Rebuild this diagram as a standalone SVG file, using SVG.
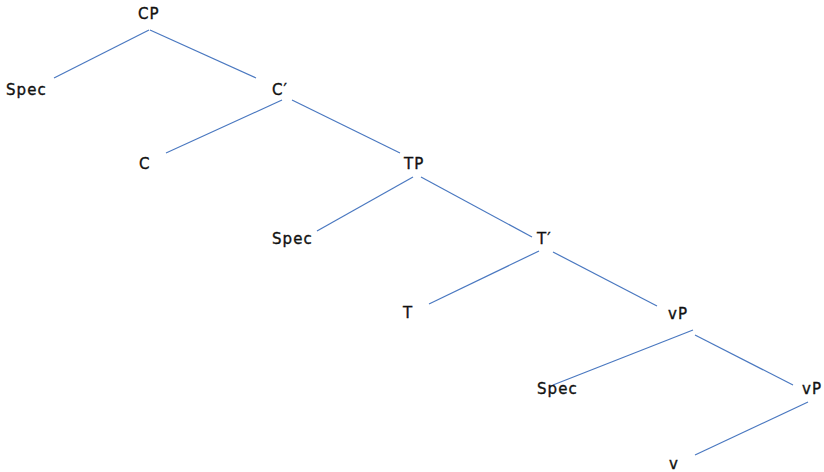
<svg xmlns="http://www.w3.org/2000/svg" width="824" height="472" viewBox="0 0 824 472">
<style>
.lbl{font-family:"DejaVu Sans","Liberation Sans",sans-serif;font-size:15px;fill:#111;stroke:#111;stroke-width:0.35;letter-spacing:1.1px}
.edge{stroke:#4a78c0;stroke-width:1.2;fill:none}
</style>
<rect width="824" height="472" fill="#fff"/>
<g id="connectors">
<line class="edge" x1="149" y1="30" x2="54" y2="78"/>
<line class="edge" x1="150" y1="30" x2="256" y2="78"/>
<line class="edge" x1="282" y1="100" x2="166" y2="153"/>
<line class="edge" x1="292" y1="100" x2="400" y2="153"/>
<line class="edge" x1="413" y1="177" x2="317" y2="231"/>
<line class="edge" x1="421" y1="177" x2="532" y2="237"/>
<line class="edge" x1="539" y1="251" x2="429" y2="304"/>
<line class="edge" x1="553" y1="252" x2="657" y2="306"/>
<line class="edge" x1="693" y1="330" x2="553" y2="385"/>
<line class="edge" x1="695" y1="335" x2="793" y2="385"/>
<line class="edge" x1="808" y1="402" x2="695" y2="455"/>
</g>
<g id="n-CP"><text class="lbl" x="138" y="19">CP</text></g>
<g id="n-Spec1"><text class="lbl" x="6" y="95">Spec</text></g>
<g id="n-Cbar"><text class="lbl" x="272" y="95">C′</text></g>
<g id="n-C"><text class="lbl" x="139" y="169">C</text></g>
<g id="n-TP"><text class="lbl" x="404" y="169">TP</text></g>
<g id="n-Spec2"><text class="lbl" x="272" y="244">Spec</text></g>
<g id="n-Tbar"><text class="lbl" x="537" y="244">T′</text></g>
<g id="n-T"><text class="lbl" x="403" y="318">T</text></g>
<g id="n-vP1"><text class="lbl" x="668" y="319">vP</text></g>
<g id="n-Spec3"><text class="lbl" x="537" y="394">Spec</text></g>
<g id="n-vP2"><text class="lbl" x="802" y="394">vP</text></g>
<g id="n-v"><text class="lbl" x="669" y="469">v</text></g>
</svg>
